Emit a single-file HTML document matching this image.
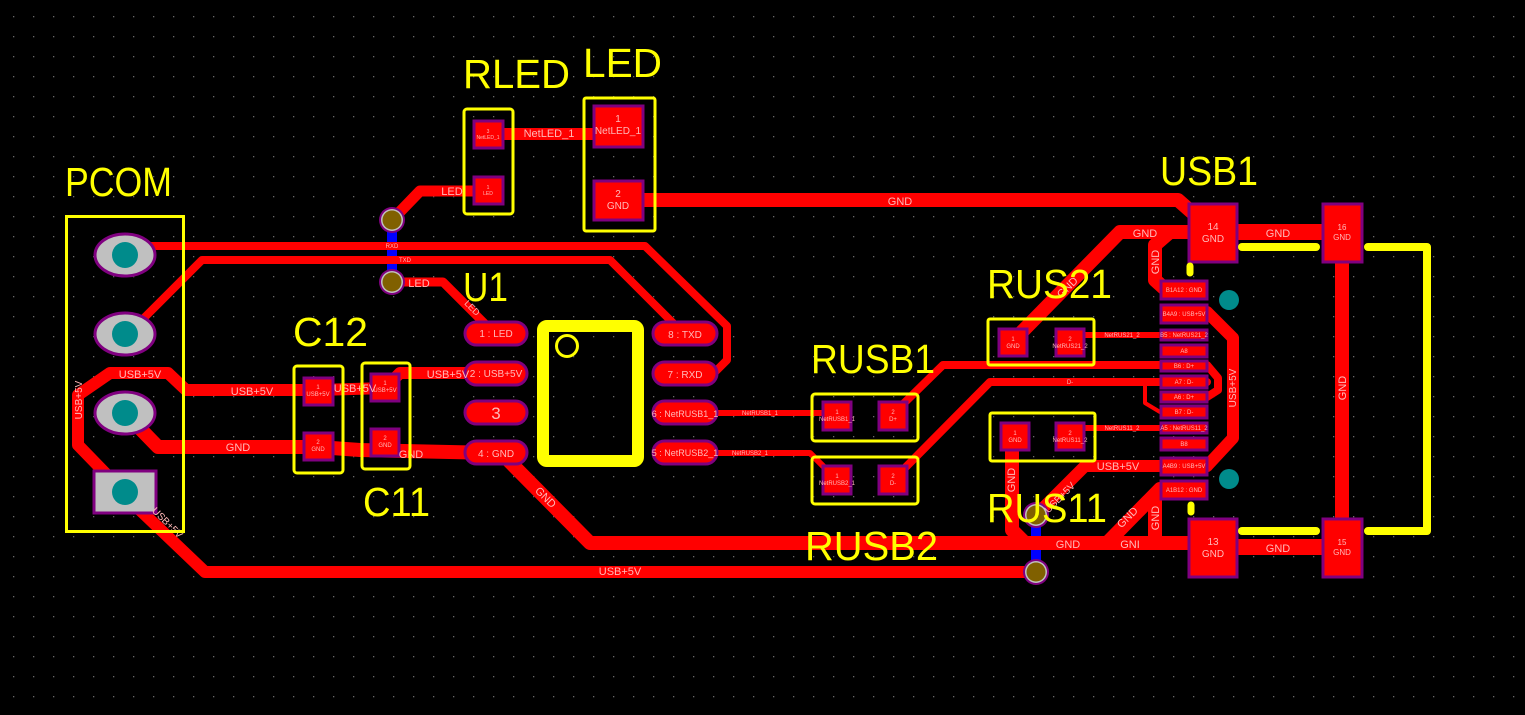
<!DOCTYPE html>
<html><head><meta charset="utf-8"><style>
html,body{margin:0;padding:0;background:#000;}
svg{display:block;}
.t{font-family:"Liberation Sans",sans-serif;fill:#ffb8b8;}
.s{font-family:"Liberation Sans",sans-serif;fill:#ffff00;font-size:41px;}
</style></head><body>
<svg width="1525" height="715" viewBox="0 0 1525 715" xmlns="http://www.w3.org/2000/svg">
<defs>
<pattern id="g" x="3" y="6" width="20" height="20" patternUnits="userSpaceOnUse"><rect x="10" y="10" width="1.3" height="1.3" fill="#6a6a6a"/></pattern>
</defs>
<rect width="1525" height="715" fill="#000"/>
<rect width="1525" height="715" fill="url(#g)"/>

<!-- blue via links -->
<rect x="387" y="220" width="10" height="62" fill="#0000ff"/>
<rect x="1031" y="515" width="10" height="57" fill="#0000ff"/>

<g fill="none" stroke="#ff0000" stroke-linejoin="round" stroke-linecap="round">
<!-- RXD -->
<polyline stroke-width="8" points="140,246 645,246 727,326 727,360 713,374"/>
<!-- TXD -->
<polyline stroke-width="8" points="140,322 202,260 610,260 680,330"/>
<!-- LED -->
<polyline stroke-width="9" points="392,282 443,282 493,332"/>
<polyline stroke-width="11" points="392,220 420,191 488,191"/>
<!-- NetLED_1 -->
<polyline stroke-width="12" points="488,134 618,134"/>
<!-- GND top -->
<polyline stroke-width="14" points="618,200 1178,200 1195,215"/>
<!-- USB+5V left -->
<polyline stroke-width="12" points="110,478 78,445 78,395 110,373 168,373 186,390 318,390 385,388 400,373 495,373"/>
<!-- GND left -->
<polyline stroke-width="14" points="125,413 158,447 318,447 360,450 495,453"/>
<!-- USB+5V bottom -->
<polyline stroke-width="12" points="140,510 205,572 1036,572"/>
<!-- GND bottom -->
<polyline stroke-width="14" points="495,453 506,458 590,543 1230,543"/>
<!-- NetRUSB -->
<polyline stroke-width="6" points="715,413 837,413"/>
<polyline stroke-width="6" points="715,453 810,453 837,480"/>
<!-- D+ / D- -->
<polyline stroke-width="8" points="893,414 943,365 1207,365 1218,378 1218,390 1207,397"/>
<polyline stroke-width="8" points="893,480 990,382 1207,382"/>
<polyline stroke-width="4" points="1160,382 1145,382 1145,403 1160,412"/>
<!-- RUS21 -->
<polyline stroke-width="14" points="1012,342 1120,232 1190,232"/>
<polyline stroke-width="14" points="1170,232 1155,245 1155,280 1165,289"/>
<polyline stroke-width="6" points="1069,335 1162,335"/>
<polyline stroke-width="6" points="1069,428 1162,428"/>
<!-- RUS11 GND -->
<polyline stroke-width="14" points="1012,436 1012,530 1025,543"/>
<!-- USB+5V right -->
<polyline stroke-width="12" points="1036,515 1085,466 1207,466"/>
<polyline stroke-width="12" points="1200,312 1207,312 1233,338 1233,438 1207,466"/>
<!-- GND A1B12 -->
<polyline stroke-width="14" points="1165,489 1160,489 1107,543"/>
<polyline stroke-width="14" points="1155,495 1155,543"/>
<!-- connector GNDs -->
<polyline stroke-width="16" points="1212,232 1342,232"/>
<polyline stroke-width="16" points="1212,547 1342,547"/>
<polyline stroke-width="14" points="1342,232 1342,547"/>
</g>

<!-- PCOM pads -->
<g stroke="#800080" stroke-width="3">
<ellipse cx="125" cy="255" rx="30" ry="21" fill="#c0c0c0"/>
<ellipse cx="125" cy="334" rx="30" ry="21" fill="#c0c0c0"/>
<ellipse cx="125" cy="413" rx="30" ry="21" fill="#c0c0c0"/>
<rect x="94" y="471" width="62" height="42" fill="#c0c0c0"/>
</g>
<g fill="#008b8b">
<circle cx="125" cy="255" r="13"/><circle cx="125" cy="334" r="13"/><circle cx="125" cy="413" r="13"/><circle cx="125" cy="492" r="13"/>
<circle cx="1229" cy="300" r="10"/><circle cx="1229" cy="479" r="10"/>
</g>

<!-- SMD pads -->
<g fill="#ff0000" stroke="#800080" stroke-width="3">
<rect x="474" y="121" width="29" height="27"/>
<rect x="474" y="177" width="29" height="27"/>
<rect x="594" y="106" width="49" height="41"/>
<rect x="594" y="181" width="49" height="39"/>
<rect x="304" y="378" width="29" height="27"/>
<rect x="304" y="433" width="29" height="27"/>
<rect x="371" y="374" width="28" height="27"/>
<rect x="371" y="429" width="28" height="27"/>
<rect x="823" y="402" width="28" height="28"/>
<rect x="879" y="402" width="28" height="28"/>
<rect x="823" y="466" width="28" height="28"/>
<rect x="879" y="466" width="28" height="28"/>
<rect x="999" y="329" width="28" height="27"/>
<rect x="1056" y="329" width="28" height="27"/>
<rect x="1001" y="423" width="28" height="27"/>
<rect x="1056" y="423" width="28" height="27"/>
<!-- U1 pins -->
<rect x="465" y="322" width="62" height="23" rx="11.5"/>
<rect x="465" y="362" width="62" height="23" rx="11.5"/>
<rect x="465" y="401" width="62" height="23" rx="11.5"/>
<rect x="465" y="441" width="62" height="23" rx="11.5"/>
<rect x="653" y="322" width="64" height="23" rx="11.5"/>
<rect x="653" y="362" width="64" height="23" rx="11.5"/>
<rect x="653" y="401" width="64" height="23" rx="11.5"/>
<rect x="653" y="441" width="64" height="23" rx="11.5"/>
<!-- USB pins -->
<rect x="1161" y="281" width="46" height="18"/>
<rect x="1161" y="305" width="46" height="18"/>
<rect x="1161" y="330" width="46" height="10"/>
<rect x="1161" y="345" width="46" height="12"/>
<rect x="1161" y="361" width="46" height="10"/>
<rect x="1161" y="376" width="46" height="12"/>
<rect x="1161" y="392" width="46" height="10"/>
<rect x="1161" y="406" width="46" height="12"/>
<rect x="1161" y="423" width="46" height="10"/>
<rect x="1161" y="438" width="46" height="12"/>
<rect x="1161" y="458" width="46" height="17"/>
<rect x="1161" y="481" width="46" height="18"/>
<rect x="1189" y="204" width="48" height="58"/>
<rect x="1323" y="204" width="39" height="58"/>
<rect x="1189" y="519" width="48" height="58"/>
<rect x="1323" y="519" width="39" height="58"/>
</g>

<!-- vias -->
<g>
<circle cx="392" cy="220" r="13" fill="#800080"/><circle cx="392" cy="220" r="11" fill="#c0c0c0"/><circle cx="392" cy="220" r="9.5" fill="#806000"/>
<circle cx="392" cy="282" r="13" fill="#800080"/><circle cx="392" cy="282" r="11" fill="#c0c0c0"/><circle cx="392" cy="282" r="9.5" fill="#806000"/>
<circle cx="1036" cy="515" r="13" fill="#800080"/><circle cx="1036" cy="515" r="11" fill="#c0c0c0"/><circle cx="1036" cy="515" r="9.5" fill="#806000"/>
<circle cx="1036" cy="572" r="13" fill="#800080"/><circle cx="1036" cy="572" r="11" fill="#c0c0c0"/><circle cx="1036" cy="572" r="9.5" fill="#806000"/>
</g>

<!-- pad text -->
<g class="t" text-anchor="middle">
<text x="496" y="337" font-size="10">1 : LED</text>
<text x="496" y="377" font-size="10">2 : USB+5V</text>
<text x="496" y="419" font-size="17">3</text>
<text x="496" y="457" font-size="10">4 : GND</text>
<text x="685" y="338" font-size="10">8 : TXD</text>
<text x="685" y="378" font-size="10">7 : RXD</text>
<text x="685" y="417" font-size="9">6 : NetRUSB1_1</text>
<text x="685" y="456" font-size="9">5 : NetRUSB2_1</text>
<text x="618" y="122" font-size="10">1</text><text x="618" y="134" font-size="10">NetLED_1</text>
<text x="618" y="197" font-size="10">2</text><text x="618" y="209" font-size="10">GND</text>
<text x="488" y="133" font-size="5">3</text><text x="488" y="139" font-size="5">NetLED_1</text>
<text x="488" y="189" font-size="5">1</text><text x="488" y="195" font-size="5">LED</text>
<text x="1213" y="230" font-size="10">14</text><text x="1213" y="242" font-size="10">GND</text>
<text x="1342" y="230" font-size="8">16</text><text x="1342" y="240" font-size="8">GND</text>
<text x="1213" y="545" font-size="10">13</text><text x="1213" y="557" font-size="10">GND</text>
<text x="1342" y="545" font-size="8">15</text><text x="1342" y="555" font-size="8">GND</text>
<g font-size="6">
<text x="1184" y="292">B1A12 : GND</text>
<text x="1184" y="316">B4A9 : USB+5V</text>
<text x="1184" y="337">B5 : NetRUS21_2</text>
<text x="1184" y="353">A8</text>
<text x="1184" y="368">B6 : D+</text>
<text x="1184" y="384">A7 : D-</text>
<text x="1184" y="399">A6 : D+</text>
<text x="1184" y="414">B7 : D-</text>
<text x="1184" y="430">A5 : NetRUS11_2</text>
<text x="1184" y="446">B8</text>
<text x="1184" y="468">A4B9 : USB+5V</text>
<text x="1184" y="492">A1B12 : GND</text>
<text x="1122" y="337">NetRUS21_2</text>
<text x="1122" y="430">NetRUS11_2</text>
<text x="1013" y="341">1</text><text x="1013" y="348">GND</text>
<text x="1070" y="341">2</text><text x="1070" y="348">NetRUS21_2</text>
<text x="1015" y="435">1</text><text x="1015" y="442">GND</text>
<text x="1070" y="435">2</text><text x="1070" y="442">NetRUS11_2</text>
<text x="837" y="414">1</text><text x="837" y="421">NetRUSB1_1</text>
<text x="893" y="414">2</text><text x="893" y="421">D+</text>
<text x="837" y="478">1</text><text x="837" y="485">NetRUSB2_1</text>
<text x="893" y="478">2</text><text x="893" y="485">D-</text>
<text x="318" y="389">1</text><text x="318" y="396">USB+5V</text>
<text x="318" y="444">2</text><text x="318" y="451">GND</text>
<text x="385" y="385">1</text><text x="385" y="392">USB+5V</text>
<text x="385" y="440">2</text><text x="385" y="447">GND</text>
<text x="760" y="415">NetRUSB1_1</text>
<text x="750" y="455">NetRUSB2_1</text>
<text x="392" y="248">RXD</text>
<text x="405" y="262">TXD</text>
<text x="1070" y="384">D-</text>
</g>
<!-- trace labels -->
<g font-size="11">
<text x="900" y="205">GND</text>
<text x="549" y="137">NetLED_1</text>
<text x="252" y="395">USB+5V</text>
<text x="355" y="392">USB+5V</text>
<text x="448" y="378">USB+5V</text>
<text x="140" y="378">USB+5V</text>
<text x="238" y="451">GND</text>
<text x="411" y="458">GND</text>
<text x="620" y="575">USB+5V</text>
<text x="1068" y="548">GND</text>
<text x="1145" y="237">GND</text>
<text x="1278" y="237">GND</text>
<text x="1278" y="552">GND</text>
<text x="1130" y="548">GNI</text>
<text x="1118" y="470">USB+5V</text>
<text x="419" y="287">LED</text>
<text x="452" y="195">LED</text>
</g>
<text x="0" y="0" font-size="11" transform="translate(1346,388) rotate(-90)">GND</text>
<text x="0" y="0" font-size="10" transform="translate(1236,388) rotate(-90)">USB+5V</text>
<text x="0" y="0" font-size="11" transform="translate(1159,262) rotate(-90)">GND</text>
<text x="0" y="0" font-size="11" transform="translate(1159,518) rotate(-90)">GND</text>
<text x="0" y="0" font-size="11" transform="translate(1015,480) rotate(-90)">GND</text>
<text x="0" y="0" font-size="10" transform="translate(82,400) rotate(-90)">USB+5V</text>
<text x="0" y="0" font-size="11" transform="translate(543,500) rotate(45)">GND</text>
<text x="0" y="0" font-size="11" transform="translate(1070,290) rotate(-45)">GND</text>
<text x="0" y="0" font-size="11" transform="translate(1130,520) rotate(-45)">GND</text>
<text x="0" y="0" font-size="10" transform="translate(1062,500) rotate(-45)">USB+5V</text>
<text x="0" y="0" font-size="10" transform="translate(165,525) rotate(45)">USB+5V</text>
<text x="0" y="0" font-size="9" transform="translate(470,310) rotate(45)">LED</text>
</g>

<!-- silkscreen -->
<g fill="none" stroke="#ffff00">
<rect x="66.5" y="216.5" width="117" height="315" stroke-width="3"/>
<rect x="464" y="109" width="49" height="105" rx="3" stroke-width="3"/>
<rect x="584" y="98" width="71" height="133" rx="2" stroke-width="3"/>
<rect x="294" y="366" width="49" height="107" rx="3" stroke-width="3"/>
<rect x="362" y="363" width="48" height="106" rx="3" stroke-width="3"/>
<rect x="543" y="326" width="95" height="135" rx="4" stroke-width="12"/>
<circle cx="567" cy="346" r="10.5" stroke-width="3"/>
<rect x="812" y="394" width="106" height="47" rx="3" stroke-width="3"/>
<rect x="812" y="457" width="106" height="47" rx="3" stroke-width="3"/>
<rect x="988" y="319" width="106" height="46" rx="2" stroke-width="3"/>
<rect x="990" y="413" width="105" height="48" rx="2" stroke-width="3"/>
<line x1="1242" y1="247" x2="1316" y2="247" stroke-width="8" stroke-linecap="round"/>
<line x1="1242" y1="531" x2="1316" y2="531" stroke-width="8" stroke-linecap="round"/>
<polyline points="1368,247 1427,247 1427,531 1368,531" stroke-width="8" stroke-linecap="round" stroke-linejoin="round"/>
<line x1="1190" y1="266" x2="1190" y2="273" stroke-width="7" stroke-linecap="round"/>
<line x1="1191" y1="505" x2="1191" y2="512" stroke-width="7" stroke-linecap="round"/>
</g>
<g class="s">
<text x="65" y="196" textLength="107" lengthAdjust="spacingAndGlyphs">PCOM</text>
<text x="463" y="88" textLength="107" lengthAdjust="spacingAndGlyphs">RLED</text>
<text x="583" y="77" textLength="79" lengthAdjust="spacingAndGlyphs">LED</text>
<text x="463" y="301" textLength="45" lengthAdjust="spacingAndGlyphs">U1</text>
<text x="293" y="346" textLength="75" lengthAdjust="spacingAndGlyphs">C12</text>
<text x="363" y="516" textLength="67" lengthAdjust="spacingAndGlyphs">C11</text>
<text x="811" y="373" textLength="124" lengthAdjust="spacingAndGlyphs">RUSB1</text>
<text x="805" y="560" textLength="133" lengthAdjust="spacingAndGlyphs">RUSB2</text>
<text x="987" y="298" textLength="125" lengthAdjust="spacingAndGlyphs">RUS21</text>
<text x="987" y="522" textLength="120" lengthAdjust="spacingAndGlyphs">RUS11</text>
<text x="1160" y="185" textLength="98" lengthAdjust="spacingAndGlyphs">USB1</text>
</g>
</svg>
</body></html>
